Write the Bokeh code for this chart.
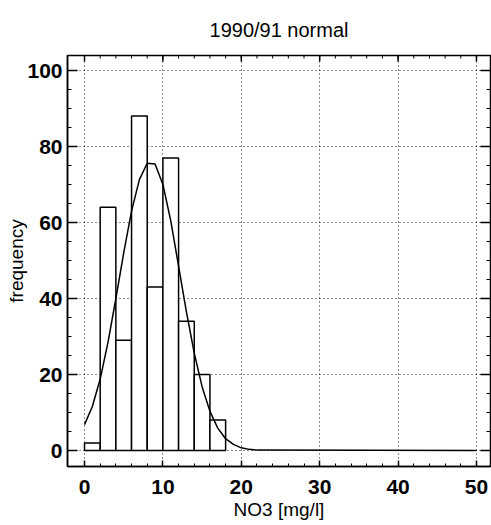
from bokeh.plotting import figure
from bokeh.models import Range1d, FixedTicker
from bokeh.embed import file_html
from bokeh.resources import INLINE

# Histogram of NO3 concentrations (bin width 2 mg/l)
bin_left = [0, 2, 4, 6, 8, 10, 12, 14, 16]
bin_right = [2, 4, 6, 8, 10, 12, 14, 16, 18]
counts = [2, 64, 29, 88, 43, 77, 34, 20, 8]

# Fitted normal curve
curve_x = [0, 1, 2, 3, 4, 5, 6, 7, 8, 9, 10, 11, 12, 13, 14, 15, 16, 17, 18, 19, 20, 21, 22, 50]
curve_y = [6.8, 11.6, 18.8, 28.5, 40.0, 52.0, 63.0, 71.3, 75.6, 75.4, 70.0, 60.5, 48.5, 36.5, 25.6, 16.8, 10.3, 5.9, 3.1, 1.6, 0.7, 0.3, 0.1, 0.0]

x_ticks = [0, 10, 20, 30, 40, 50]
y_ticks = [0, 20, 40, 60, 80, 100]
x_minor = list(range(0, 52, 2))
y_minor = list(range(0, 105, 5))

title_text = "1990/91 normal"
x_label = "NO3 [mg/l]"
y_label = "frequency"

FONT = "Liberation Sans"
X0, X1 = -2.17, 51.79
Y0, Y1 = -4.21, 103.95

p = figure(width=491, height=525, output_backend="svg", toolbar_location=None,
           x_range=Range1d(X0, X1), y_range=Range1d(Y0, Y1),
           min_border_left=67, min_border_right=1, min_border_top=55, min_border_bottom=59)
p.background_fill_color = "white"
p.border_fill_color = "white"
p.outline_line_color = "black"
p.outline_line_width = 1.5

p.title.text = title_text
p.title.align = "center"
p.title.text_font = FONT
p.title.text_font_size = "20px"
p.title.text_font_style = "normal"
p.title.text_color = "black"
p.title.standoff = 30

p.quad(left=bin_left, right=bin_right, bottom=0, top=counts,
       fill_color="white", line_color="black", line_width=1.5)
p.line(curve_x, curve_y, line_color="black", line_width=1.5)

# inward ticks on the top and right edges of the frame (clipped to the frame)
p.scatter(x=x_ticks, y=[Y1] * len(x_ticks), marker="dash", angle=1.5708, size=12,
          line_color="black", line_width=1.5)
p.scatter(x=x_minor, y=[Y1] * len(x_minor), marker="dash", angle=1.5708, size=6,
          line_color="black", line_width=1)
p.scatter(x=[X1] * len(y_ticks), y=y_ticks, marker="dash", size=20,
          line_color="black", line_width=1.5)
p.scatter(x=[X1] * len(y_minor), y=y_minor, marker="dash", size=8,
          line_color="black", line_width=1)

def style_axis(ax, major_in, minor_in):
    ax.axis_line_color = "black"
    ax.axis_line_width = 1.5
    ax.major_tick_line_color = "black"
    ax.minor_tick_line_color = "black"
    ax.major_tick_line_width = 1.5
    ax.minor_tick_line_width = 1
    ax.major_tick_in = major_in
    ax.major_tick_out = 0
    ax.minor_tick_in = minor_in
    ax.minor_tick_out = 0
    ax.major_label_text_font = FONT
    ax.major_label_text_color = "black"
    ax.major_label_text_font_style = "bold"
    ax.major_label_text_font_size = "21px"
    ax.axis_label_text_font = FONT
    ax.axis_label_text_color = "black"
    ax.axis_label_text_font_style = "normal"
    ax.axis_label_text_font_size = "19px"

p.xaxis.ticker = FixedTicker(ticks=x_ticks, minor_ticks=x_minor)
p.yaxis.ticker = FixedTicker(ticks=y_ticks, minor_ticks=y_minor)
style_axis(p.xaxis[0], 6, 3)
style_axis(p.yaxis[0], 10, 4)
p.xaxis.axis_label = x_label
p.yaxis.axis_label = y_label
p.xaxis.major_label_standoff = 13
p.yaxis.major_label_standoff = 5
p.xaxis.axis_label_standoff = 2
p.yaxis.axis_label_standoff = -3

for g in (p.xgrid[0], p.ygrid[0]):
    g.grid_line_color = "black"
    g.grid_line_width = 1
    g.grid_line_dash = "1 3"
    g.grid_line_alpha = 0.9
p.xgrid.ticker = FixedTicker(ticks=x_ticks)
p.ygrid.ticker = FixedTicker(ticks=y_ticks)

open("out.html", "w").write(file_html(p, INLINE))
